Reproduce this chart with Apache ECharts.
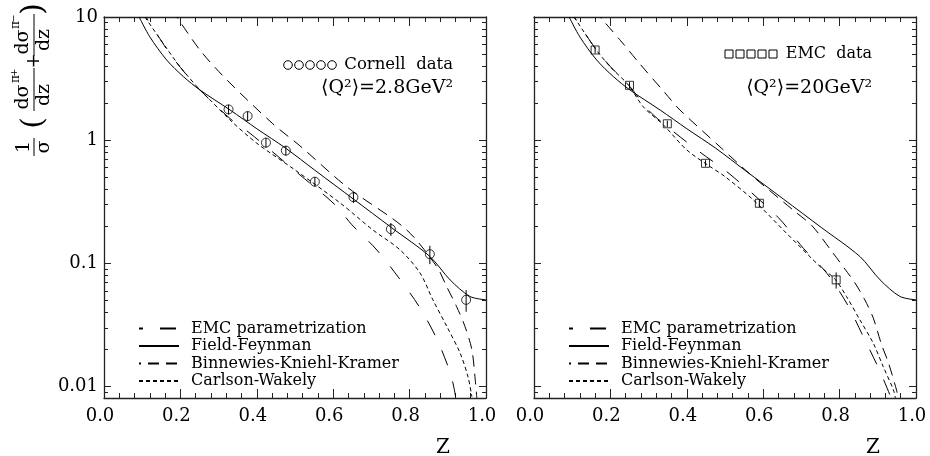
<!DOCTYPE html>
<html>
<head>
<meta charset="utf-8">
<script src="https://cdn.jsdelivr.net/npm/echarts@6/dist/echarts.min.js"></script>
<style>
html,body{margin:0;padding:0;background:#fff}
#main{width:930px;height:456px}
</style>
</head>
<body>
<div id="main"></div>
<script>
// Field-Feynman, same curve in both panels
var ffZ = [0.092, 0.12, 0.164, 0.208, 0.251, 0.33, 0.40, 0.476, 0.552, 0.653, 0.753, 0.853, 0.906, 0.958, 1.0];
var ffV = [10, 6.9, 4.48, 3.28, 2.56, 1.76, 1.24, 0.86, 0.571, 0.333, 0.195, 0.114, 0.0736, 0.054, 0.0507];

// left panel, <Q2> = 2.8 GeV2
var emcLZ = [0.11, 0.164, 0.2, 0.251, 0.33, 0.382, 0.513, 0.605, 0.649, 0.712, 0.770, 0.825, 0.871, 0.908, 0.921];
var emcLV = [10, 5.5, 3.9, 2.56, 1.5, 1.14, 0.523, 0.299, 0.206, 0.131, 0.0778, 0.0447, 0.0245, 0.0125, 0.0081];
var bkkLZ = [0.191, 0.251, 0.322, 0.442, 0.513, 0.636, 0.79, 0.871, 0.897, 0.923, 0.945, 0.963, 0.971, 0.976];
var bkkLV = [10, 5.4, 3.08, 1.36, 0.90, 0.418, 0.19, 0.0944, 0.065, 0.0447, 0.0308, 0.020, 0.0121, 0.0081];
var cwLZ = [0.107, 0.164, 0.199, 0.251, 0.269, 0.33, 0.40, 0.50, 0.618, 0.704, 0.775, 0.827, 0.861, 0.898, 0.932, 0.953, 0.963];
var cwLV = [10, 5.57, 3.95, 2.56, 2.26, 1.46, 0.946, 0.574, 0.31, 0.187, 0.129, 0.084, 0.0507, 0.0306, 0.0188, 0.012, 0.0083];

// right panel, <Q2> = 20 GeV2
var emcRZ = [0.105, 0.16, 0.2, 0.25, 0.30, 0.35, 0.43, 0.513, 0.64, 0.705, 0.768, 0.821, 0.862, 0.904, 0.935];
var emcRV = [10, 5.6, 3.96, 2.75, 1.75, 1.28, 0.82, 0.53, 0.235, 0.133, 0.0824, 0.0461, 0.0255, 0.0137, 0.0081];
var bkkRZ = [0.173, 0.227, 0.275, 0.343, 0.382, 0.49, 0.565, 0.683, 0.728, 0.779, 0.814, 0.840, 0.866, 0.888, 0.910, 0.927, 0.949, 0.953];
var bkkRV = [10, 6.41, 4.24, 2.42, 1.76, 0.867, 0.533, 0.264, 0.202, 0.126, 0.090, 0.0697, 0.0507, 0.0362, 0.0219, 0.0159, 0.0094, 0.0081];
var cwRZ = [0.105, 0.160, 0.199, 0.247, 0.286, 0.339, 0.40, 0.461, 0.50, 0.574, 0.661, 0.749, 0.788, 0.818, 0.853, 0.888, 0.914, 0.941, 0.946];
var cwRV = [10, 5.57, 3.96, 2.81, 1.87, 1.33, 0.834, 0.611, 0.507, 0.328, 0.176, 0.0944, 0.0746, 0.054, 0.0349, 0.0226, 0.0146, 0.0094, 0.0081];

// data points (value, relative error)
var cornellZ = [0.326, 0.376, 0.424, 0.476, 0.552, 0.653, 0.751, 0.853, 0.948];
var cornellV = [1.78, 1.57, 0.957, 0.824, 0.461, 0.345, 0.190, 0.119, 0.0507];
var cornellE = [0.09, 0.09, 0.09, 0.09, 0.09, 0.10, 0.12, 0.17, 0.20];
var emcZ = [0.160, 0.250, 0.349, 0.449, 0.590, 0.791];
var emcV = [5.40, 2.79, 1.36, 0.650, 0.308, 0.0736];
var emcE = [0.06, 0.06, 0.06, 0.06, 0.07, 0.15];

var xTicks = [0, 1, 0.2];          // min, max, step
var yMin = 0.0081, yMax = 10;
var curveNames = ['EMC parametrization', 'Field-Feynman', 'Binnewies-Kniehl-Kramer', 'Carlson-Wakely'];

var FONT = 'DejaVu Serif';
var INK = '#000';
var AX = '#222';

function pairs(zs, vs) {
	return zs.map(function (z, i) { return [z, vs[i]]; });
}
function bars(zs, vs, es) {
	return zs.map(function (z, i) { return [z, vs[i] * (1 - es[i]), vs[i] * (1 + es[i])]; });
}

// log minor ticks 2..9 per decade, in log10 space
var minorLog = [];
for (var d = -3; d <= 0; d++) {
	for (var k = 2; k <= 9; k++) {
		var t = Math.log10(k) + d;
		if (t > Math.log10(yMin) && t < 1) minorLog.push(t);
	}
}

var styles = {
	'EMC parametrization': { type: [16, 17], offset: 12 },
	'Field-Feynman': { type: 'solid', offset: 0 },
	'Binnewies-Kniehl-Kramer': { type: [11, 7], offset: 9 },
	'Carlson-Wakely': { type: [4, 3], offset: 0 }
};

var grids = [
	{ left: 104, top: 17, width: 382, height: 381 },
	{ left: 534, top: 17, width: 382, height: 381 }
];

var xAxes = [], yAxes = [], series = [];

function lineOf(w) { return { show: true, onZero: false, lineStyle: { color: AX, width: w } }; }

for (var p = 0; p < 2; p++) {
	['bottom', 'top'].forEach(function (pos) {
		xAxes.push({
			type: 'value', gridIndex: p, position: pos,
			min: xTicks[0], max: xTicks[1], interval: xTicks[2],
			axisLine: lineOf(1.3),
			axisTick: { inside: true, length: 9, lineStyle: { color: AX } },
			minorTick: { show: true, splitNumber: 5, length: 5, lineStyle: { color: AX } },
			splitLine: { show: false },
			axisLabel: {
				show: pos === 'bottom', margin: 9, color: INK,
				fontFamily: FONT, fontSize: 18, padding: [0, 8, 0, 0],
				formatter: function (v) { return v.toFixed(1); }
			}
		});
	});
	var first = p === 0;
	['left', 'right'].forEach(function (pos) {
		yAxes.push({
			type: 'log', logBase: 10, gridIndex: p, position: pos,
			min: yMin, max: yMax,
			axisLine: lineOf(1.3),
			axisTick: { inside: true, length: 7, lineStyle: { color: AX } },
			splitLine: { show: false },
			axisLabel: {
				show: first && pos === 'left', showMinLabel: false, margin: 6,
				color: INK, fontFamily: FONT, fontSize: 18,
				formatter: function (v) { return String(+(+v).toPrecision(3)); }
			}
		});
	});
	['left', 'right'].forEach(function (pos) {
		yAxes.push({
			type: 'value', gridIndex: p, position: pos,
			min: Math.log10(yMin), max: 1,
			axisLine: { show: false, onZero: false },
			axisTick: { inside: true, length: 4, customValues: minorLog, lineStyle: { color: AX } },
			splitLine: { show: false },
			axisLabel: { show: false }
		});
	});
}

function curve(name, zs, vs, p) {
	var s = styles[name];
	return {
		type: 'line', name: name, xAxisIndex: 2 * p, yAxisIndex: 4 * p,
		data: pairs(zs, vs), symbol: 'none', smooth: 0.3, silent: true,
		lineStyle: { color: INK, width: 1, type: s.type, dashOffset: s.offset },
		itemStyle: { color: INK }
	};
}

series.push(curve('EMC parametrization', emcLZ, emcLV, 0));
series.push(curve('Field-Feynman', ffZ, ffV, 0));
series.push(curve('Binnewies-Kniehl-Kramer', bkkLZ, bkkLV, 0));
series.push(curve('Carlson-Wakely', cwLZ, cwLV, 0));
series.push(curve('EMC parametrization', emcRZ, emcRV, 1));
series.push(curve('Field-Feynman', ffZ, ffV, 1));
series.push(curve('Binnewies-Kniehl-Kramer', bkkRZ, bkkRV, 1));
series.push(curve('Carlson-Wakely', cwRZ, cwRV, 1));

function errSeries(zs, vs, es, p) {
	return {
		type: 'custom', xAxisIndex: 2 * p, yAxisIndex: 4 * p, silent: true,
		data: bars(zs, vs, es), encode: { x: 0, y: [1, 2] },
		renderItem: function (params, api) {
			var a = api.coord([api.value(0), api.value(1)]);
			var b = api.coord([api.value(0), api.value(2)]);
			return { type: 'line', shape: { x1: a[0], y1: a[1], x2: b[0], y2: b[1] }, style: { stroke: INK, lineWidth: 1 } };
		}
	};
}
series.push(errSeries(cornellZ, cornellV, cornellE, 0));
series.push(errSeries(emcZ, emcV, emcE, 1));

series.push({
	type: 'scatter', name: 'Cornell data', xAxisIndex: 0, yAxisIndex: 0, silent: true,
	data: pairs(cornellZ, cornellV), symbol: 'circle', symbolSize: 9,
	itemStyle: { color: 'rgba(0,0,0,0)', borderColor: INK, borderWidth: 1 }
});
series.push({
	type: 'scatter', name: 'EMC data', xAxisIndex: 2, yAxisIndex: 4, silent: true,
	data: pairs(emcZ, emcV), symbol: 'rect', symbolSize: 8,
	itemStyle: { color: 'rgba(0,0,0,0)', borderColor: INK, borderWidth: 1 }
});

function legendAt(left) {
	return {
		left: left, top: 315.5, orient: 'vertical', selectedMode: false,
		itemWidth: 40, itemHeight: 14, itemGap: 1.5,
		data: curveNames,
		itemStyle: { color: 'rgba(0,0,0,0)', borderWidth: 0, opacity: 0 },
		textStyle: { fontFamily: FONT, fontSize: 16, color: INK, padding: [0, 0, 0, 7] }
	};
}

function txt(text, x, y, size, align) {
	return {
		type: 'text', silent: true,
		style: {
			text: text, x: x, y: y, fill: INK,
			font: size + 'px "' + FONT + '", "DejaVu Sans"',
			align: align || 'center', textAlign: align || 'center',
			verticalAlign: 'middle', textVerticalAlign: 'middle'
		}
	};
}
function bar(x1, x2) {
	return { type: 'line', silent: true, shape: { x1: x1, y1: 0, x2: x2, y2: 0 }, style: { stroke: INK, lineWidth: 1 } };
}

var graphics = [];
// symbol keys
for (var i = 0; i < 5; i++) {
	graphics.push({ type: 'circle', silent: true, shape: { cx: 288 + 11 * i, cy: 65, r: 4.3 }, style: { fill: 'none', stroke: INK, lineWidth: 1 } });
	graphics.push({ type: 'rect', silent: true, shape: { x: 725 + 11 * i, y: 50, width: 8, height: 8 }, style: { fill: 'none', stroke: INK, lineWidth: 1 } });
}
graphics.push(txt('Cornell  data', 453, 65, 16.5, 'right'));
graphics.push(txt('\u27E8Q\u00B2\u27E9=2.8GeV\u00B2', 453, 88, 19, 'right'));
graphics.push(txt('EMC  data', 872, 54, 16, 'right'));
graphics.push(txt('\u27E8Q\u00B2\u27E9=20GeV\u00B2', 872, 88, 19, 'right'));
graphics.push(txt('Z', 443, 448, 20));
graphics.push(txt('Z', 873, 448, 20));

// rotated y title: 1/sigma ( dsigma^pi+/dz + dsigma^pi-/dz )
graphics.push({
	type: 'group', x: 34, y: 164, rotation: Math.PI / 2, silent: true,
	children: [
		txt('1', 17, -10, 19), bar(8, 26), txt('\u03C3', 17, 10, 19),
		txt('(', 41, 0, 30),
		txt('d\u03C3', 67, -10.5, 19), txt('\u03C0', 85, -18, 12), txt('+', 91.5, -20, 10),
		bar(53, 96), txt('dz', 69, 10.5, 19),
		txt('+', 103, 0, 18),
		txt('d\u03C3', 122, -10.5, 19), txt('\u03C0', 139, -18, 12), txt('\u2212', 145.5, -20, 10),
		bar(108, 150), txt('dz', 124, 10.5, 19),
		txt(')', 155, 0, 30)
	]
});

var myChart = echarts.init(document.getElementById('main'));
myChart.setOption({
	backgroundColor: '#fff',
	animation: false,
	grid: grids,
	xAxis: xAxes,
	yAxis: yAxes,
	legend: [legendAt(133), legendAt(563)],
	series: series,
	graphic: graphics
});
</script>
</body>
</html>
